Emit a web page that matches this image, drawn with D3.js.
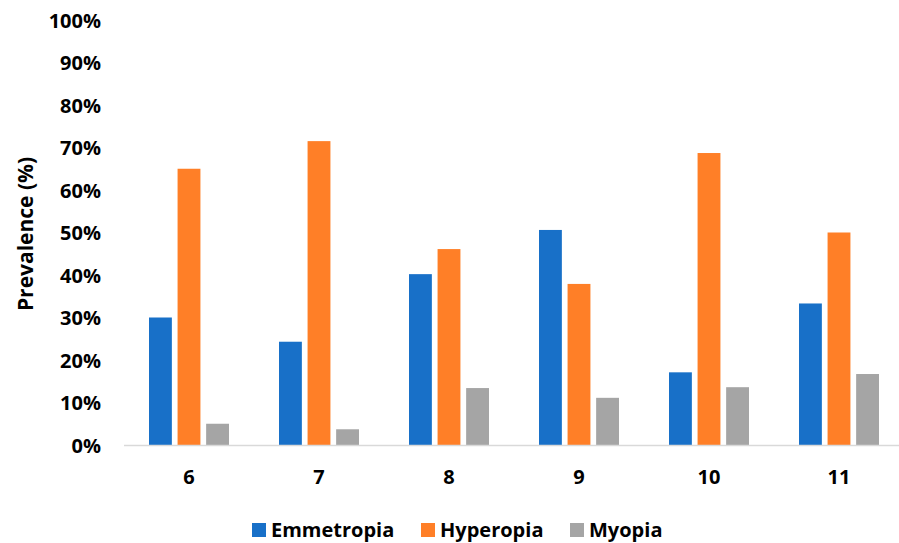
<!DOCTYPE html>
<html>
<head>
<meta charset="utf-8">
<script src="https://cdn.jsdelivr.net/npm/d3@7"></script>
<style>
  html, body { margin: 0; padding: 0; background: #fff; }
  svg { display: block; }
  text { font-family: "Open Sans", "Liberation Sans", sans-serif; font-weight: 700; fill: #000; }
</style>
</head>
<body>
<svg id="chart" width="899" height="543"></svg>
<script>
const categories = ["6", "7", "8", "9", "10", "11"];
const seriesNames = ["Emmetropia", "Hyperopia", "Myopia"];
const emmetropia = [30.0, 24.3, 40.2, 50.6, 17.1, 33.3];
const hyperopia  = [65.0, 71.5, 46.1, 37.9, 68.7, 50.0];
const myopia     = [5.0, 3.7, 13.4, 11.1, 13.6, 16.7];
const yTicks = [0, 10, 20, 30, 40, 50, 60, 70, 80, 90, 100];
const colors = ["#1870c8", "#ff7f27", "#a5a5a5"];

const seriesValues = [emmetropia, hyperopia, myopia];
const data = categories.map((c, i) => ({
  cat: c,
  vals: seriesNames.map((s, j) => ({ key: s, value: seriesValues[j][i], color: colors[j] }))
}));

const svg = d3.select("#chart");

const x0 = d3.scaleBand().domain(categories).range([124, 904]).padding(0);
const x1 = d3.scaleBand().domain(seriesNames).range([25, 105]).paddingInner(0.2);
const y = d3.scaleLinear().domain([0, 100]).range([445, 20]);

// y tick labels
const yAxis = d3.axisLeft(y).tickValues(yTicks).tickFormat(d => d + "%").tickSize(0).tickPadding(0);
const gy = svg.append("g").attr("transform", "translate(101,0)").call(yAxis);
gy.select(".domain").remove();
gy.selectAll("text").style("font-size", "20px").attr("dy", "0.35em")
  .style("font-family", "'Open Sans', sans-serif").style("font-weight", 700).attr("fill", "#000");

// bars
const groups = svg.append("g").selectAll("g").data(data).join("g")
  .attr("transform", d => `translate(${x0(d.cat)},0)`);
groups.selectAll("rect").data(d => d.vals).join("rect")
  .attr("x", d => x1(d.key))
  .attr("width", x1.bandwidth())
  .attr("y", d => y(d.value))
  .attr("height", d => y(0) - y(d.value))
  .attr("fill", d => d.color);

// x axis line
svg.append("line").attr("x1", 124).attr("x2", 900).attr("y1", y(0) + 0.5).attr("y2", y(0) + 0.5)
  .attr("stroke", "#d9d9d9").attr("stroke-width", 1.5);

// x tick labels
const xAxis = d3.axisBottom(x0).tickSize(0).tickPadding(0);
const gx = svg.append("g").attr("transform", "translate(0,484)").call(xAxis);
gx.select(".domain").remove();
gx.selectAll("text").attr("dy", 0).attr("y", 0).style("font-size", "20px")
  .style("font-family", "'Open Sans', sans-serif").style("font-weight", 700).attr("fill", "#000");

// y axis title
svg.append("text")
  .attr("transform", "translate(33,234) rotate(-90)")
  .attr("text-anchor", "middle")
  .style("font-size", "21px")
  .text("Prevalence (%)");

// legend
const legendX = [252, 421, 570];
const lg = svg.append("g").selectAll("g").data(seriesNames).join("g")
  .attr("transform", (d, i) => `translate(${legendX[i]},523)`);
lg.append("rect").attr("width", 14).attr("height", 14).attr("fill", (d, i) => colors[i]);
lg.append("text").attr("x", 19).attr("y", 14).style("font-size", "20px").text(d => d);
</script>
</body>
</html>
